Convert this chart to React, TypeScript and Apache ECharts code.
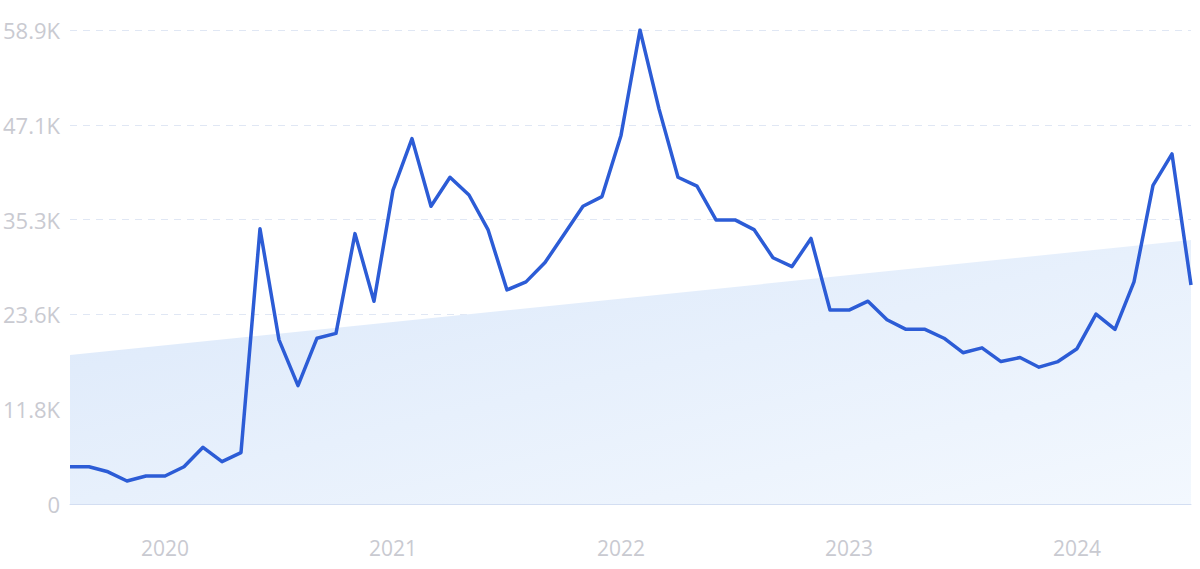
import React, { useEffect, useRef } from "react";
import * as echarts from "echarts";

const months: string[] = [
  "2019-08", "2019-09", "2019-10", "2019-11", "2019-12",
  "2020-01", "2020-02", "2020-03", "2020-04", "2020-05", "2020-06", "2020-07", "2020-08", "2020-09", "2020-10", "2020-11", "2020-12",
  "2021-01", "2021-02", "2021-03", "2021-04", "2021-05", "2021-06", "2021-07", "2021-08", "2021-09", "2021-10", "2021-11", "2021-12",
  "2022-01", "2022-02", "2022-03", "2022-04", "2022-05", "2022-06", "2022-07", "2022-08", "2022-09", "2022-10", "2022-11", "2022-12",
  "2023-01", "2023-02", "2023-03", "2023-04", "2023-05", "2023-06", "2023-07", "2023-08", "2023-09", "2023-10", "2023-11", "2023-12",
  "2024-01", "2024-02", "2024-03", "2024-04", "2024-05", "2024-06", "2024-07",
];

const searches: number[] = [
  4630, 4630, 4000, 2860, 3480,
  3480, 4630, 7040, 5260, 6380, 34200, 20400, 14700, 20600, 21200, 33600, 25200,
  39000, 45400, 37000, 40600, 38400, 34100, 26600, 27600, 30000, 33500, 37000, 38200,
  45800, 58900, 49100, 40600, 39500, 35300, 35300, 34100, 30600, 29500, 33000, 24100,
  24100, 25200, 22900, 21700, 21700, 20600, 18800, 19400, 17700, 18200, 17000, 17700,
  19300, 23600, 21700, 27600, 39600, 43500, 27200,
];

const trendStart = 18500;
const trendEnd = 32800;

const yTicks: number[] = [0, 11780, 23560, 35340, 47120, 58900];

export default function App() {
  const ref = useRef<HTMLDivElement>(null);

  useEffect(() => {
    if (!ref.current) return;
    const chart = echarts.init(ref.current, undefined, { renderer: "svg" });
    const trend: (number | null)[] = months.map((_, i) =>
      i === 0 ? trendStart : i === months.length - 1 ? trendEnd : null
    );
    const labelFont = "'Open Sans', sans-serif";
    chart.setOption({
      animation: false,
      grid: { left: 68, right: 9, top: 30, bottom: 65, containLabel: false },
      xAxis: {
        type: "category",
        data: months,
        boundaryGap: false,
        axisLine: { show: true, lineStyle: { color: "#d3def2", width: 1 } },
        axisTick: { show: false },
        splitLine: { show: false },
        axisLabel: {
          interval: (idx: number) => months[idx].endsWith("-01"),
          formatter: (v: string) => v.slice(0, 4),
          color: "#c9cad1",
          fontSize: 21,
          fontFamily: labelFont,
          margin: 33,
        },
      },
      yAxis: {
        type: "value",
        min: yTicks[0],
        max: yTicks[yTicks.length - 1],
        interval: yTicks[1] - yTicks[0],
        axisLine: { show: false },
        axisTick: { show: false },
        splitLine: { show: true, lineStyle: { color: "#e0e7f4", type: [7, 6], width: 1 } },
        axisLabel: {
          formatter: (v: number) => (v === 0 ? "0" : (v / 1000).toFixed(1) + "K"),
          color: "#c9cad1",
          fontSize: 22,
          fontFamily: labelFont,
          margin: 10,
        },
      },
      series: [
        {
          type: "line",
          data: trend,
          connectNulls: true,
          symbol: "none",
          lineStyle: { width: 0, opacity: 0 },
          areaStyle: {
            origin: "start",
            color: new echarts.graphic.LinearGradient(0, 0, 1, 1, [
              { offset: 0, color: "#dbe8fa" },
              { offset: 1, color: "#f3f8fe" },
            ]),
            opacity: 1,
          },
          silent: true,
          z: 1,
        },
        {
          type: "line",
          data: searches,
          symbol: "none",
          lineStyle: { color: "#2c5cd6", width: 3.5, join: "round" },
          z: 3,
        },
      ],
    });
    return () => chart.dispose();
  }, []);

  return (
    <div
      ref={ref}
      style={{ position: "fixed", left: 0, top: 0, width: 1200, height: 569, background: "#ffffff" }}
    />
  );
}
